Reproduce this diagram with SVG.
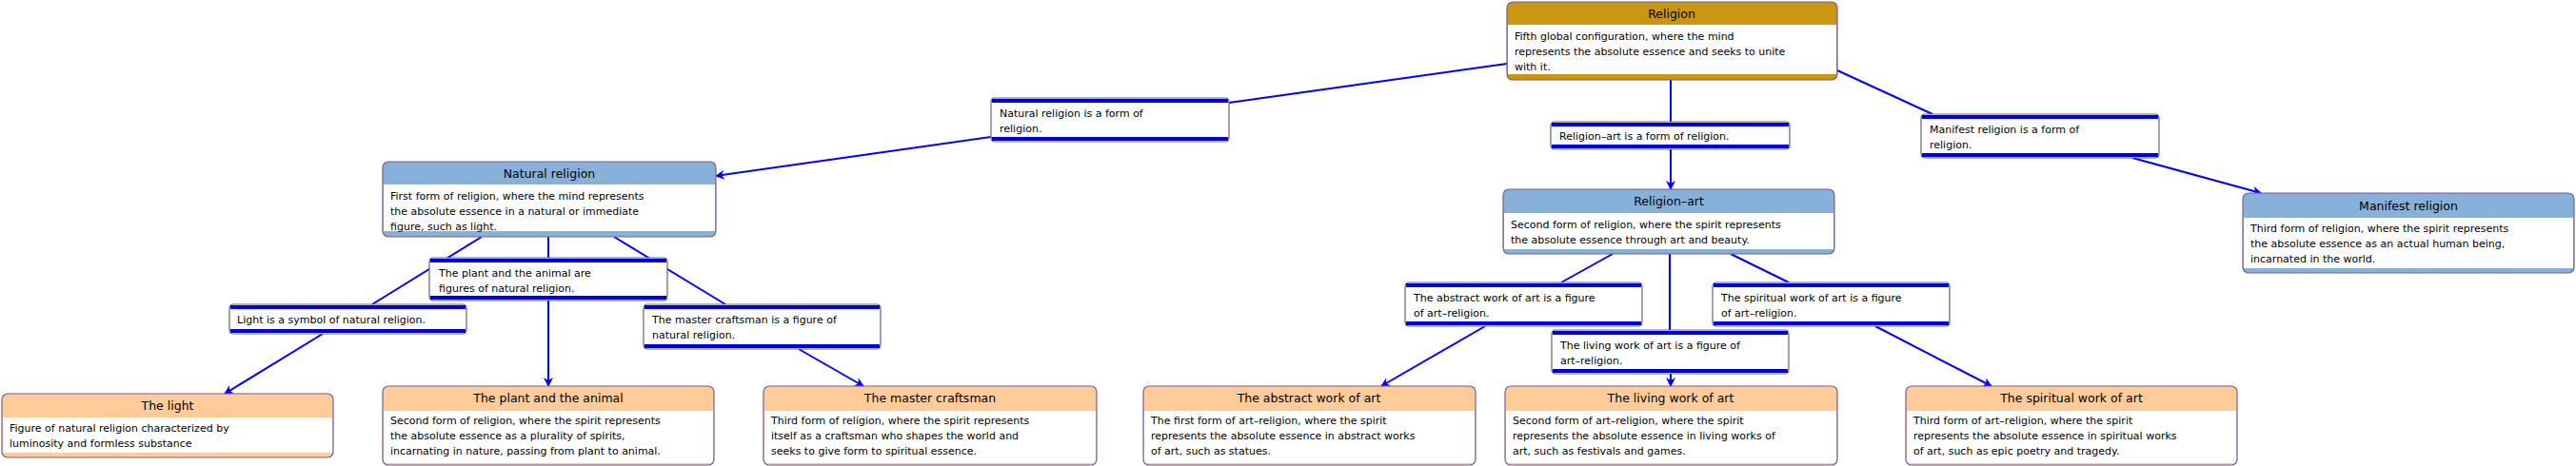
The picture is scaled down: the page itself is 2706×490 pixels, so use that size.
<svg xmlns="http://www.w3.org/2000/svg" width="2706" height="490" viewBox="0 0 2706 490">
<defs>
<marker id="ar" viewBox="0 0 10 10" refX="9" refY="5" markerWidth="10" markerHeight="10" markerUnits="userSpaceOnUse" orient="auto"><path d="M0,0 L10,5 L0,10 L3,5 Z" fill="#0000ff"/></marker>
<style>
text{font-family:"DejaVu Sans","Liberation Sans",sans-serif;font-size:11px;fill:#000}
.t{font-size:12.5px;text-anchor:middle}
.bd{fill:none;stroke:#7a5f95;stroke-width:1.2}
.w{fill:#fff}
.gold{fill:#c8960f}.blue{fill:#87b1d9}.or{fill:#ffcb99}
.lb{fill:#fff;stroke:#666;stroke-width:1.2}
.band{fill:#0000e6}
.c line{stroke:#0000ff;stroke-width:2}
</style>
</defs>
<g class="c">
<line x1="1583" y1="67" x2="1291" y2="108"/>
<line x1="1041" y1="144" x2="752" y2="185" marker-end="url(#ar)"/>
<line x1="1755" y1="84" x2="1755" y2="128"/>
<line x1="1755" y1="157" x2="1755" y2="199" marker-end="url(#ar)"/>
<line x1="1930" y1="74" x2="2030" y2="120"/>
<line x1="2240" y1="166" x2="2375" y2="203" marker-end="url(#ar)"/>
<line x1="506" y1="249" x2="391" y2="320"/>
<line x1="576" y1="249" x2="576" y2="271"/>
<line x1="645" y1="249" x2="762" y2="320"/>
<line x1="339" y1="351" x2="236" y2="414" marker-end="url(#ar)"/>
<line x1="576" y1="316" x2="576" y2="406" marker-end="url(#ar)"/>
<line x1="839" y1="367" x2="907" y2="406" marker-end="url(#ar)"/>
<line x1="1694" y1="267" x2="1640" y2="297"/>
<line x1="1754" y1="267" x2="1754" y2="347"/>
<line x1="1818" y1="267" x2="1879" y2="297"/>
<line x1="1560" y1="343" x2="1451" y2="406" marker-end="url(#ar)"/>
<line x1="1755" y1="393" x2="1755" y2="406" marker-end="url(#ar)"/>
<line x1="1970" y1="343" x2="2092" y2="406" marker-end="url(#ar)"/>
</g>
<g id="religion">
<rect x="1583" y="2" width="347" height="82" rx="6" class="gold"/><rect x="1584" y="26" width="345" height="52" class="w"/><rect x="1583" y="2" width="347" height="82" rx="6" class="bd"/>
<text x="1756" y="19" class="t">Religion</text>
<text x="1591" y="42">Fifth global configuration, where the mind</text>
<text x="1591" y="58">represents the absolute essence and seeks to unite</text>
<text x="1591" y="74">with it.</text>
</g>
<g id="lbl-natural">
<rect x="1041" y="103" width="250" height="46" rx="4" class="lb"/><rect x="1042" y="104" width="248" height="4" class="band"/><rect x="1042" y="144" width="248" height="4" class="band"/>
<text x="1050" y="123">Natural religion is a form of</text><text x="1050" y="139">religion.</text>
</g>
<g id="lbl-art">
<rect x="1629" y="128" width="251" height="29" rx="4" class="lb"/><rect x="1630" y="129" width="249" height="4" class="band"/><rect x="1630" y="152" width="249" height="4" class="band"/>
<text x="1638" y="147">Religion–art is a form of religion.</text>
</g>
<g id="lbl-manifest">
<rect x="2018" y="120" width="250" height="46" rx="4" class="lb"/><rect x="2019" y="121" width="248" height="4" class="band"/><rect x="2019" y="161" width="248" height="4" class="band"/>
<text x="2027" y="140">Manifest religion is a form of</text><text x="2027" y="156">religion.</text>
</g>
<g id="natural">
<rect x="402" y="170" width="350" height="79" rx="6" class="blue"/><rect x="403" y="194" width="348" height="49" class="w"/><rect x="402" y="170" width="350" height="79" rx="6" class="bd"/>
<text x="577" y="187" class="t">Natural religion</text>
<text x="410" y="210">First form of religion, where the mind represents</text>
<text x="410" y="226">the absolute essence in a natural or immediate</text>
<text x="410" y="242">figure, such as light.</text>
</g>
<g id="religion-art">
<rect x="1579" y="199" width="348" height="68" rx="6" class="blue"/><rect x="1580" y="224" width="346" height="38" class="w"/><rect x="1579" y="199" width="348" height="68" rx="6" class="bd"/>
<text x="1753" y="216" class="t">Religion–art</text>
<text x="1587" y="240">Second form of religion, where the spirit represents</text>
<text x="1587" y="256">the absolute essence through art and beauty.</text>
</g>
<g id="manifest">
<rect x="2356" y="203" width="348" height="84" rx="6" class="blue"/><rect x="2357" y="229" width="346" height="53" class="w"/><rect x="2356" y="203" width="348" height="84" rx="6" class="bd"/>
<text x="2530" y="221" class="t">Manifest religion</text>
<text x="2364" y="244">Third form of religion, where the spirit represents</text>
<text x="2364" y="260">the absolute essence as an actual human being,</text>
<text x="2364" y="276">incarnated in the world.</text>
</g>
<g id="lbl-plant">
<rect x="451" y="271" width="250" height="45" rx="4" class="lb"/><rect x="452" y="272" width="248" height="4" class="band"/><rect x="452" y="311" width="248" height="4" class="band"/>
<text x="461" y="291">The plant and the animal are</text><text x="461" y="307">figures of natural religion.</text>
</g>
<g id="lbl-light">
<rect x="241" y="320" width="249" height="31" rx="4" class="lb"/><rect x="242" y="321" width="247" height="4" class="band"/><rect x="242" y="346" width="247" height="4" class="band"/>
<text x="249" y="340">Light is a symbol of natural religion.</text>
</g>
<g id="lbl-master">
<rect x="676" y="320" width="249" height="47" rx="4" class="lb"/><rect x="677" y="321" width="247" height="4" class="band"/><rect x="677" y="362" width="247" height="4" class="band"/>
<text x="685" y="340">The master craftsman is a figure of</text><text x="685" y="356">natural religion.</text>
</g>
<g id="lbl-abstract">
<rect x="1476" y="297" width="249" height="46" rx="4" class="lb"/><rect x="1477" y="298" width="247" height="4" class="band"/><rect x="1477" y="338" width="247" height="4" class="band"/>
<text x="1485" y="317">The abstract work of art is a figure</text><text x="1485" y="333">of art–religion.</text>
</g>
<g id="lbl-spiritual">
<rect x="1799" y="297" width="249" height="46" rx="4" class="lb"/><rect x="1800" y="298" width="247" height="4" class="band"/><rect x="1800" y="338" width="247" height="4" class="band"/>
<text x="1808" y="317">The spiritual work of art is a figure</text><text x="1808" y="333">of art–religion.</text>
</g>
<g id="lbl-living">
<rect x="1630" y="347" width="249" height="46" rx="4" class="lb"/><rect x="1631" y="348" width="247" height="4" class="band"/><rect x="1631" y="388" width="247" height="4" class="band"/>
<text x="1639" y="367">The living work of art is a figure of</text><text x="1639" y="383">art–religion.</text>
</g>
<g id="light">
<rect x="2" y="414" width="348" height="67" rx="6" class="or"/><rect x="3" y="439" width="346" height="37" class="w"/><rect x="2" y="414" width="348" height="67" rx="6" class="bd"/>
<text x="176" y="431" class="t">The light</text>
<text x="10" y="454">Figure of natural religion characterized by</text>
<text x="10" y="470">luminosity and formless substance</text>
</g>
<g id="plant">
<rect x="402" y="406" width="348" height="83" rx="6" class="or"/><rect x="403" y="432" width="346" height="55" class="w"/><rect x="402" y="406" width="348" height="83" rx="6" class="bd"/>
<text x="576" y="423" class="t">The plant and the animal</text>
<text x="410" y="446">Second form of religion, where the spirit represents</text>
<text x="410" y="462">the absolute essence as a plurality of spirits,</text>
<text x="410" y="478">incarnating in nature, passing from plant to animal.</text>
</g>
<g id="master">
<rect x="802" y="406" width="350" height="83" rx="6" class="or"/><rect x="803" y="432" width="348" height="55" class="w"/><rect x="802" y="406" width="350" height="83" rx="6" class="bd"/>
<text x="977" y="423" class="t">The master craftsman</text>
<text x="810" y="446">Third form of religion, where the spirit represents</text>
<text x="810" y="462">itself as a craftsman who shapes the world and</text>
<text x="810" y="478">seeks to give form to spiritual essence.</text>
</g>
<g id="abstract">
<rect x="1201" y="406" width="349" height="83" rx="6" class="or"/><rect x="1202" y="432" width="347" height="55" class="w"/><rect x="1201" y="406" width="349" height="83" rx="6" class="bd"/>
<text x="1375" y="423" class="t">The abstract work of art</text>
<text x="1209" y="446">The first form of art–religion, where the spirit</text>
<text x="1209" y="462">represents the absolute essence in abstract works</text>
<text x="1209" y="478">of art, such as statues.</text>
</g>
<g id="living">
<rect x="1581" y="406" width="349" height="83" rx="6" class="or"/><rect x="1582" y="432" width="347" height="55" class="w"/><rect x="1581" y="406" width="349" height="83" rx="6" class="bd"/>
<text x="1755" y="423" class="t">The living work of art</text>
<text x="1589" y="446">Second form of art–religion, where the spirit</text>
<text x="1589" y="462">represents the absolute essence in living works of</text>
<text x="1589" y="478">art, such as festivals and games.</text>
</g>
<g id="spiritual">
<rect x="2002" y="406" width="348" height="83" rx="6" class="or"/><rect x="2003" y="432" width="346" height="55" class="w"/><rect x="2002" y="406" width="348" height="83" rx="6" class="bd"/>
<text x="2176" y="423" class="t">The spiritual work of art</text>
<text x="2010" y="446">Third form of art–religion, where the spirit</text>
<text x="2010" y="462">represents the absolute essence in spiritual works</text>
<text x="2010" y="478">of art, such as epic poetry and tragedy.</text>
</g>
</svg>
